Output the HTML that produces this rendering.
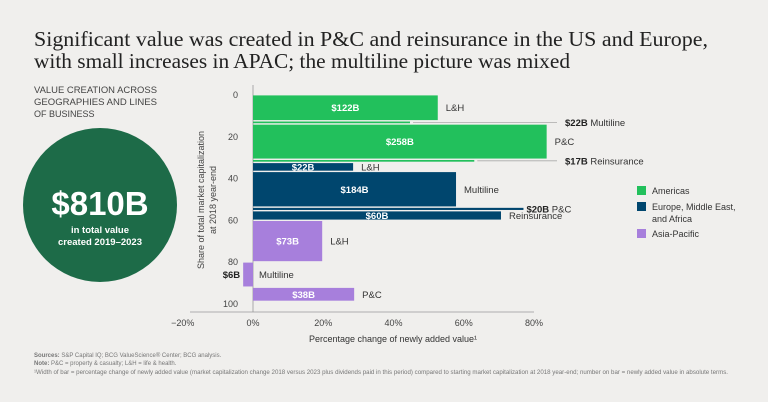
<!DOCTYPE html>
<html><head><meta charset="utf-8"><style>
html,body{margin:0;padding:0;background:#f0efed;}
svg{display:block;font-family:"Liberation Sans",sans-serif;}
</style></head><body>
<svg id="chart" width="768" height="402" viewBox="0 0 768 402">
<rect width="768" height="402" fill="#f0efed"/>
<text x="34" y="46" font-family="Liberation Serif,serif" font-size="21" fill="#222" textLength="674" lengthAdjust="spacingAndGlyphs">Significant value was created in P&amp;C and reinsurance in the US and Europe,</text>
<text x="34" y="68" font-family="Liberation Serif,serif" font-size="21" fill="#222" textLength="536" lengthAdjust="spacingAndGlyphs">with small increases in APAC; the multiline picture was mixed</text>
<g font-size="9" fill="#444">
<text x="34" y="93" textLength="123" lengthAdjust="spacingAndGlyphs">VALUE CREATION ACROSS</text>
<text x="34" y="105" textLength="123" lengthAdjust="spacingAndGlyphs">GEOGRAPHIES AND LINES</text>
<text x="34" y="117">OF BUSINESS</text>
</g>
<circle cx="100" cy="205" r="77" fill="#1d6b48"/>
<text x="100" y="215" text-anchor="middle" font-size="33" font-weight="bold" fill="#fff">$810B</text>
<text x="100" y="233" text-anchor="middle" font-size="9.5" font-weight="bold" fill="#fff">in total value</text>
<text x="100" y="245" text-anchor="middle" font-size="9.5" font-weight="bold" fill="#fff">created 2019–2023</text>
<g id="plot"></g>
<g font-size="9" fill="#333">
<rect x="637" y="186" width="9" height="9" fill="#22c05c"/><text x="652" y="194">Americas</text>
<rect x="637" y="202" width="9" height="9" fill="#00466e"/><text x="652" y="210">Europe, Middle East,</text><text x="652" y="222">and Africa</text>
<rect x="637" y="229" width="9" height="9" fill="#a77fdc"/><text x="652" y="237">Asia-Pacific</text>
</g>
<g font-size="6" fill="#777">
<text x="34" y="357"><tspan font-weight="bold">Sources:</tspan> S&amp;P Capital IQ; BCG ValueScience® Center; BCG analysis.</text>
<text x="34" y="365"><tspan font-weight="bold">Note:</tspan> P&amp;C = property &amp; casualty; L&amp;H = life &amp; health.</text>
<text x="34" y="374" textLength="694" lengthAdjust="spacingAndGlyphs">¹Width of bar = percentage change of newly added value (market capitalization change 2018 versus 2023 plus dividends paid in this period) compared to starting market capitalization at 2018 year-end; number on bar = newly added value in absolute terms.</text>
</g>
</svg>
<script>
const regions = ["Americas","Americas","Americas","Americas","EMEA","EMEA","EMEA","EMEA","APAC","APAC","APAC"];
const lines = ["L&H","Multiline","P&C","Reinsurance","L&H","Multiline","P&C","Reinsurance","L&H","Multiline","P&C"];
const shares = [12.2,1.2,16.6,1.2,4.0,16.8,1.4,4.3,19.6,11.8,6.5];
const pctChange = [52.6,44.7,83.6,63.0,28.5,57.8,77.0,70.6,19.7,-2.8,28.8];
const valueLabels = ["$122B","$22B","$258B","$17B","$22B","$184B","$20B","$60B","$73B","$6B","$38B"];
const xTicks = [-20,0,20,40,60,80];
const yTicks = [0,20,40,60,80,100];
const colors = {Americas:"#22c05c",EMEA:"#00466e",APAC:"#a77fdc"};
const NS="http://www.w3.org/2000/svg";
const x = v => 253 + v*(281/80);
const y = v => 95 + v*(209/100);
const g = document.getElementById('plot');
function mk(tag, attrs, txt){const e=document.createElementNS(NS,tag);for(const k in attrs)e.setAttribute(k,attrs[k]);if(txt!=null)e.textContent=txt;g.appendChild(e);return e;}
let e = mk('line',{x1:190,x2:534,y1:y(100)+8,y2:y(100)+8,stroke:'#999','stroke-width':0.8});


e = mk('line',{x1:x(0),x2:x(0),y1:85,y2:y(100)+8,stroke:'#999','stroke-width':0.8});


xTicks.forEach(t=>{
  const el = mk('text',{x:x(t),y:326,'text-anchor':'middle','font-size':9,fill:'#444'},(t<0?'−':'')+Math.abs(t)+'%');
  
  
});
yTicks.forEach(t=>{
  const el = mk('text',{x:238,y:y(t)+3,'text-anchor':'end','font-size':9,fill:'#444'},t);
  
  
});
e = mk('text',{x:393,y:342,'text-anchor':'middle','font-size':9,fill:'#333'},'Percentage change of newly added value¹');


e = mk('text',{transform:'translate(204,200) rotate(-90)','text-anchor':'middle','font-size':9,fill:'#444'},'Share of total market capitalization');


e = mk('text',{transform:'translate(216,200) rotate(-90)','text-anchor':'middle','font-size':9,fill:'#444'},'at 2018 year-end');


let cum = 0;
shares.forEach((s,i)=>{
  const y0 = y(cum)+0.4, y1 = y(cum+s)-0.4; cum += s + 0.3;
  const v = pctChange[i];
  const xa = Math.min(x(0),x(v)), xb = Math.max(x(0),x(v));
  const r = mk('rect',{x:xa,y:y0,width:xb-xa,height:Math.max(1,y1-y0),fill:colors[regions[i]]});
  
  
  const h = y1-y0, cy=(y0+y1)/2;
  if (v < 0) {
    const a = mk('text',{x:xa-3,y:cy+3.5,'text-anchor':'end','font-size':9.5,'font-weight':'bold',fill:'#222'},valueLabels[i]);
    
    
    const b = mk('text',{x:x(0)+6,y:cy+3.5,'font-size':9.5,fill:'#333'},lines[i]);
    
    
  } else if (h < 4) {
    const isEnd = v > 75;
    if (!isEnd) {
      const ln = mk('line',{x1:xb+3,x2:557,y1:cy,y2:cy,stroke:'#aaa','stroke-width':0.8});
      
      
    }
    const lx = isEnd ? xb+3 : 565;
    const a = mk('text',{x:lx,y:cy+3.5,'font-size':9.5,fill:'#333'});
    
    
    a.innerHTML = '<tspan font-weight="bold" fill="#222">'+valueLabels[i]+'</tspan> '+lines[i].replace('&','&amp;');
  } else {
    const a = mk('text',{x:(xa+xb)/2,y:cy+3.5,'text-anchor':'middle','font-size':9.5,'font-weight':'bold',fill:'#fff'},valueLabels[i]);
    
    
    const b = mk('text',{x:xb+8,y:cy+3.5,'font-size':9.5,fill:'#333'},lines[i]);
    
    
  }
});
</script>
</body></html>
